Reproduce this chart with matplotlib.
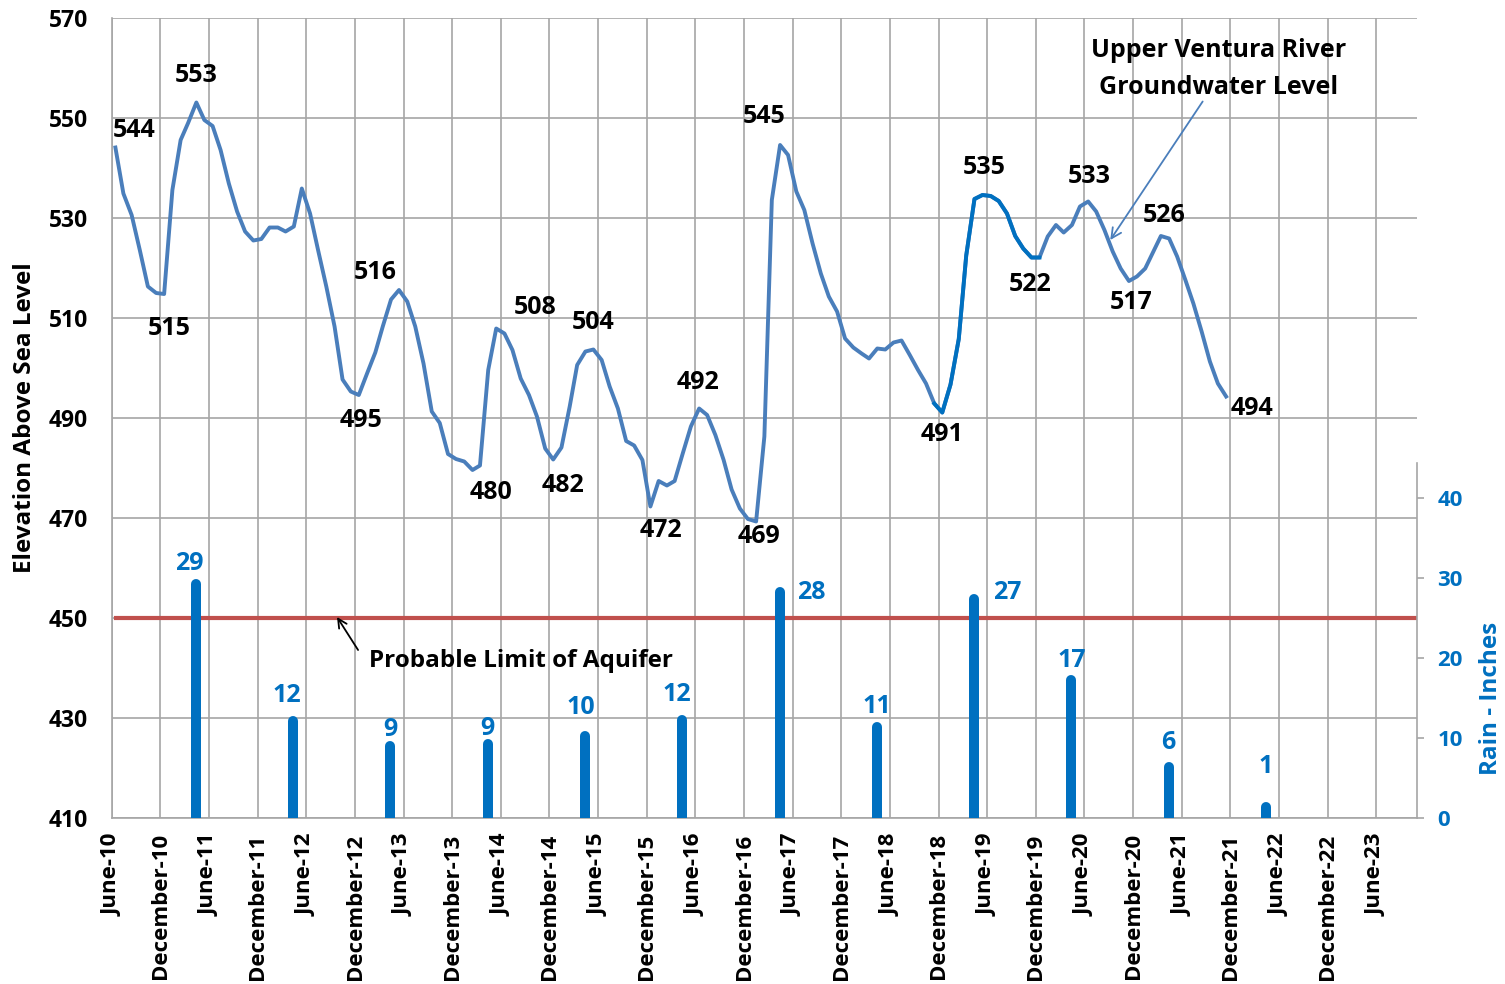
import numpy as np
import pandas as pd
import matplotlib
matplotlib.use("Agg")
import matplotlib.pyplot as plt
import matplotlib.dates as mdates

plt.rcParams['font.family'] = ['Open Sans', 'DejaVu Sans']

# monthly groundwater elevation (ft above sea level), June 2010 onward
level = [544.1, 534.9, 530.6, 523.5, 516.3, 515.0, 514.8, 535.6, 545.6, 549.0,
         553.1, 549.6, 548.4, 543.6, 536.9, 531.3, 527.3, 525.5, 525.8, 528.1,
         528.1, 527.3, 528.3, 535.9, 530.9, 523.6, 516.3, 508.3, 497.7, 495.3,
         494.6, 498.9, 503.1, 508.3, 513.7, 515.6, 513.3, 508.3, 500.9, 491.3,
         489.0, 482.8, 481.8, 481.3, 479.6, 480.5, 499.6, 507.9, 506.9, 503.6,
         497.9, 494.6, 490.3, 483.9, 481.7, 484.1, 492.3, 500.6, 503.3, 503.7,
         501.6, 496.3, 491.9, 485.4, 484.5, 481.6, 472.3, 477.4, 476.5, 477.4,
         483.0, 488.3, 491.9, 490.6, 486.6, 481.6, 475.7, 471.9, 469.8, 469.3,
         486.3, 533.6, 544.6, 542.6, 535.3, 531.6, 524.9, 518.9, 514.3, 511.3,
         505.9, 504.1, 502.9, 501.9, 503.9, 503.7, 505.1, 505.5, 502.6, 499.6,
         496.9, 492.9, 491.1, 496.7, 505.8, 522.5, 533.8, 534.6, 534.4, 533.4,
         530.9, 526.4, 523.9, 522.1, 522.1, 526.3, 528.6, 527.1, 528.6, 532.3,
         533.3, 531.3, 527.6, 523.3, 519.9, 517.4, 518.3, 519.9, 523.3, 526.4,
         525.9, 522.3, 517.6, 512.9, 507.3, 501.3, 496.9, 494.3]

# seasonal rainfall (inches)
rain_years = [2011, 2012, 2013, 2014, 2015, 2016, 2017, 2018, 2019, 2020, 2021, 2022]
rain = [29.2, 12.1, 9.0, 9.3, 10.3, 12.3, 28.2, 11.4, 27.4, 17.2, 6.4, 1.4]

# which points get a value label
label_idx = [0, 10, 6, 35, 30, 44, 47, 54, 59, 66, 72, 79, 82, 102, 107, 113, 120, 125, 129, 137]

dates = pd.date_range('2010-06-01', periods=len(level), freq='MS') + pd.Timedelta(days=14)
rain_dates = [pd.Timestamp(y, 4, 13) for y in rain_years]
tick_dates = pd.date_range('2010-06-01', '2023-06-01', freq='6MS')
tick_labels = [d.strftime('%B-%y') for d in tick_dates]

x0 = mdates.date2num(pd.Timestamp('2010-06-01'))
def month_x(m):
    return x0 + m * 30.4375

# label offsets in pixels (dx, dy up)
label_off = [(19, 17), (0, 27), (5, -34), (-24, 18), (2, -25), (18, -22), (39, 21),
             (10, -26), (0, 27), (11, -24), (-1, 26), (3, -15), (-16, 29), (0, -22),
             (2, 28), (-1, -27), (1, 25), (2, -21), (3, 21), (26, -12)]
rain_off = [(-7, 21), (-6, 26), (0, 16), (0, 15), (-4, 28), (-6, 25), (32, 0),
            (0, 20), (33, 6), (0, 20), (0, 24), (0, 40)]

grid_c = '#a6a6a6'
line_c = '#4a7ebb'
blue = '#0070c0'

fig = plt.figure(figsize=(15.05, 9.84), dpi=100)
ax = fig.add_axes([0.0742, 0.1687, 0.8671, 0.8130])

ax.plot(dates, level, color=line_c, lw=2.8, zorder=3)
ax.plot(dates[101:115], level[101:115], color=blue, lw=2.8, zorder=3)
ax.axhline(450, xmin=0.003, color='#c0504d', lw=3, zorder=2)

ax.set_ylim(410, 570)
ax.set_yticks(range(410, 571, 20))
ax.set_xlim(month_x(0), month_x(161))
ax.set_xticks(tick_dates)
ax.set_xticklabels(tick_labels, rotation=90, fontsize=16, fontweight='bold')
for t in ax.get_yticklabels():
    t.set_fontsize(16.5)
    t.set_fontweight('bold')
ax.tick_params(axis='both', length=0)
ax.tick_params(axis='y', pad=17)
ax.tick_params(axis='x', pad=11)
ax.grid(True, color=grid_c, lw=1.2)
ax.set_axisbelow(True)
for s in ['top', 'right']:
    ax.spines[s].set_visible(False)
for s in ['left', 'bottom']:
    ax.spines[s].set_color(grid_c)
    ax.spines[s].set_linewidth(1.2)

ax.set_ylabel('Elevation Above Sea Level', fontsize=17.5, fontweight='bold')
ax.yaxis.set_label_coords(-0.057, 0.5)

for i, (dx, dy) in zip(label_idx, label_off):
    ax.annotate(f'{level[i]:.0f}', (dates[i], level[i]), xytext=(dx, dy),
                textcoords='offset pixels', ha='center', va='center',
                fontsize=18, fontweight='bold')

ax.text(month_x(136.6), 559.8, 'Upper Ventura River\nGroundwater Level',
        ha='center', va='center', fontsize=18, fontweight='bold', linespacing=1.6)
ax.annotate('', xy=(month_x(123.2), 525.6), xytext=(month_x(134.6), 553.3),
            arrowprops=dict(arrowstyle='->', color=line_c, lw=1.3,
                            shrinkA=0, shrinkB=0, mutation_scale=18))

ax.text(month_x(31.7), 441.4, 'Probable Limit of Aquifer', ha='left', va='center',
        fontsize=17.5, fontweight='bold')
ax.annotate('', xy=(month_x(27.8), 450.2), xytext=(month_x(30.4), 443.6),
            arrowprops=dict(arrowstyle='->', color='black', lw=1.3,
                            shrinkA=0, shrinkB=0, mutation_scale=16))

# rain on the secondary axis
ax2 = ax.twinx()
ax2.set_ylim(0, 100)
ax2.set_yticks(range(0, 41, 10))
bars = ax2.vlines(rain_dates, 0, rain, colors=blue, lw=7.2)
bars.set_capstyle('round')
for d, r, (dx, dy) in zip(rain_dates, rain, rain_off):
    ax2.annotate(f'{r:.0f}', (d, r), xytext=(dx, dy), textcoords='offset pixels',
                 ha='center', va='center', fontsize=18, fontweight='bold', color=blue)
for s in ['top', 'left', 'bottom']:
    ax2.spines[s].set_visible(False)
ax2.spines['right'].set_bounds(0, 44.4)
ax2.spines['right'].set_color(grid_c)
ax2.spines['right'].set_linewidth(1.2)
ax2.tick_params(axis='y', length=5, width=1.2, color=grid_c, pad=10,
                labelcolor=blue, labelsize=16)
for t in ax2.get_yticklabels():
    t.set_fontweight('bold')
ax2.set_ylabel('Rain - Inches', fontsize=17.5, fontweight='bold', color=blue)
ax2.yaxis.set_label_coords(1.048, 0.15)
ax2.set_xlim(month_x(0), month_x(161))

fig.savefig('out.png', dpi=100)
